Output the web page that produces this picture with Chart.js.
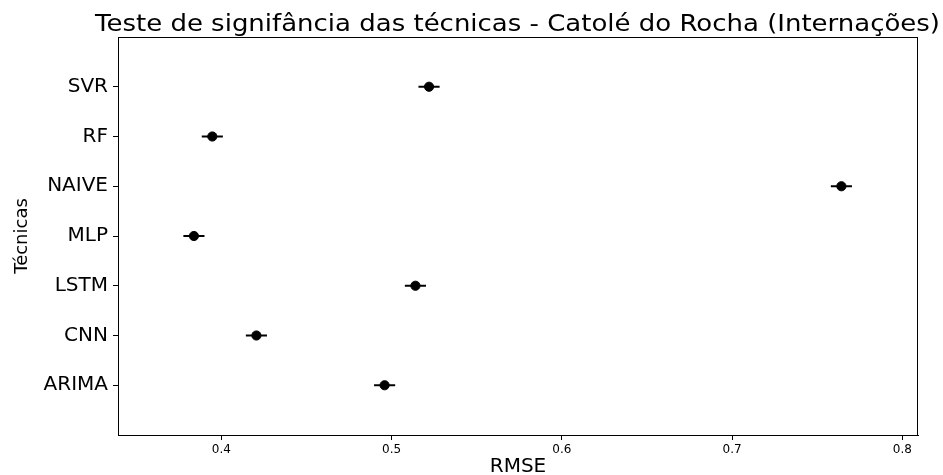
<!DOCTYPE html>
<html>
<head>
<meta charset="utf-8">
<script src="https://cdn.jsdelivr.net/npm/chart.js@4.4.0/dist/chart.umd.min.js"></script>
<style>
html,body{margin:0;padding:0;background:#fff;}
#wrap{width:943px;height:475px;position:relative;}
</style>
</head>
<body>
<div id="wrap"><canvas id="c" width="943" height="475"></canvas></div>
<script>
const techniques = ["ARIMA", "CNN", "LSTM", "MLP", "NAIVE", "RF", "SVR"];
const rmseMean = [0.4959, 0.4206, 0.5140, 0.3839, 0.7642, 0.3947, 0.5220];
const rmseErr = [0.0062, 0.0062, 0.0062, 0.0062, 0.0062, 0.0062, 0.0062];
const xTicks = [0.4, 0.5, 0.6, 0.7, 0.8];
const xRange = [0.3393, 0.8092];
const titleText = "Teste de signifância das técnicas - Catolé do Rocha (Internações)";
const xTitle = "RMSE";
const yTitle = "Técnicas";

const FONT = "'DejaVu Sans', sans-serif";

const points = rmseMean.map((v, i) => ({x: v, y: i}));

const framePlugin = {
  id: 'frame',
  afterDatasetsDraw(chart) {
    const {ctx, scales} = chart;
    const xs = scales.x, ys = scales.y;
    ctx.save();
    ctx.strokeStyle = '#000';
    ctx.lineWidth = 2;
    rmseMean.forEach((v, i) => {
      const y = ys.getPixelForValue(i);
      ctx.beginPath();
      ctx.moveTo(xs.getPixelForValue(v - rmseErr[i]), y);
      ctx.lineTo(xs.getPixelForValue(v + rmseErr[i]), y);
      ctx.stroke();
    });
    ctx.restore();
  },
  afterDraw(chart) {
    const {ctx, chartArea: a} = chart;
    ctx.save();
    ctx.strokeStyle = '#000';
    ctx.lineWidth = 1;
    ctx.strokeRect(a.left + 0.5, a.top + 0.5, a.right - a.left - 1, a.bottom - a.top);
    ctx.fillStyle = '#000';
    ctx.font = "23px " + FONT;
    ctx.textAlign = 'left';
    ctx.textBaseline = 'alphabetic';
    const w = ctx.measureText(titleText).width;
    const targetLeft = 95, targetRight = 940;
    ctx.save();
    ctx.translate(targetLeft, 31);
    ctx.scale((targetRight - targetLeft) / w, 1);
    ctx.fillText(titleText, 0, 0);
    ctx.restore();
    ctx.textAlign = 'center';
    ctx.textBaseline = 'alphabetic';
    ctx.font = "20px " + FONT;
    ctx.fillText(xTitle, (a.left + a.right) / 2, 472);
    ctx.font = "18px " + FONT;
    ctx.translate(27, (a.top + a.bottom) / 2);
    ctx.rotate(-Math.PI / 2);
    ctx.fillText(yTitle, 0, 0);
    ctx.restore();
  }
};

new Chart(document.getElementById('c'), {
  type: 'scatter',
  data: {
    datasets: [{
      data: points,
      backgroundColor: '#000',
      borderColor: '#000',
      pointRadius: 4.6,
      pointHoverRadius: 4.6
    }]
  },
  options: {
    responsive: false,
    animation: false,
    devicePixelRatio: 1,
    layout: {padding: {top: 37, right: 25, left: 0, bottom: 0}},
    plugins: {legend: {display: false}, tooltip: {enabled: false}, title: {display: false}},
    scales: {
      x: {
        type: 'linear',
        min: xRange[0],
        max: xRange[1],
        afterBuildTicks: s => { s.ticks = xTicks.map(v => ({value: v})); },
        afterFit: s => { s.height = 40; },
        grid: {drawOnChartArea: false, drawTicks: true, tickLength: 5, color: '#000'},
        border: {display: true, color: '#000', width: 1},
        ticks: {
          color: '#000',
          font: {family: FONT, size: 12},
          padding: 3,
          maxRotation: 0,
          callback: v => String(Math.round(v * 10) / 10)
        }
      },
      y: {
        type: 'linear',
        min: -1,
        max: 7,
        afterBuildTicks: s => { s.ticks = techniques.map((t, i) => ({value: i})); },
        afterFit: s => { s.width = 118; },
        grid: {drawOnChartArea: false, drawTicks: true, tickLength: 5, color: '#000'},
        border: {display: true, color: '#000', width: 1},
        ticks: {
          color: '#000',
          font: {family: FONT, size: 20},
          padding: 5,
          callback: v => techniques[v] !== undefined ? techniques[v] : ''
        }
      }
    }
  },
  plugins: [framePlugin]
});
</script>
</body>
</html>
